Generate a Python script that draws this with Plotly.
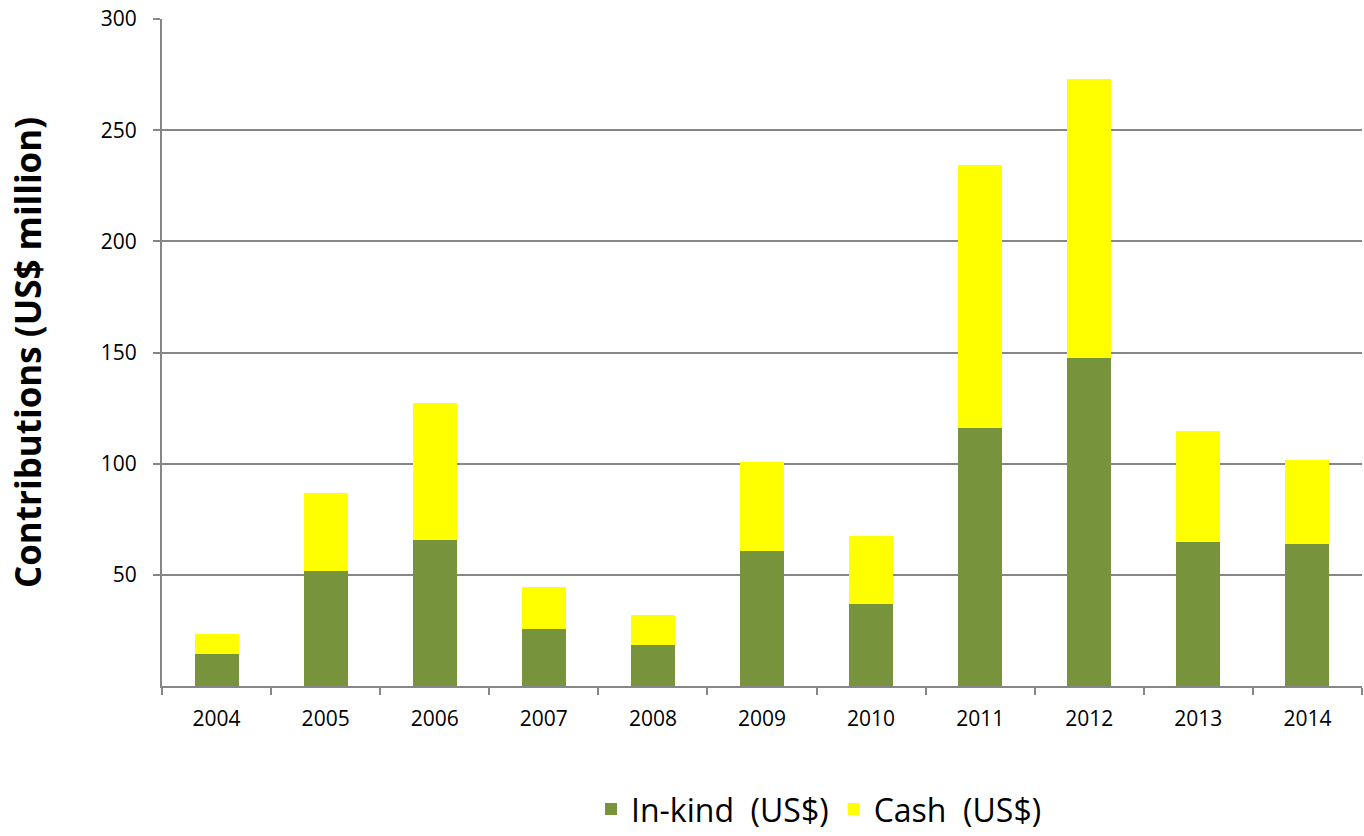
import plotly.graph_objects as go

years = ["2004", "2005", "2006", "2007", "2008", "2009", "2010", "2011", "2012", "2013", "2014"]
inkind = [14.4, 51.7, 65.7, 25.6, 18.4, 60.7, 36.9, 116.0, 147.5, 64.8, 63.9]
cash = [9.0, 35.1, 61.6, 18.9, 13.5, 40.0, 30.6, 118.3, 125.5, 49.9, 37.8]
y_ticks = [50, 100, 150, 200, 250, 300]

FONT = "Open Sans"

fig = go.Figure()
fig.add_trace(go.Bar(x=years, y=inkind, name="In-kind  (US$)", marker_color="#77933C",
                     marker_line_width=0))
fig.add_trace(go.Bar(x=years, y=cash, name="Cash  (US$)", marker_color="#FFFF00",
                     marker_line_width=0))

fig.update_layout(
    barmode="stack",
    bargap=0.597,
    width=1364, height=836,
    margin=dict(l=162, r=2, t=19, b=150),
    plot_bgcolor="white", paper_bgcolor="white",
    font=dict(family=FONT, color="black"),
    showlegend=True,
    legend=dict(orientation="h", x=0.5475, xanchor="center", xref="paper",
                y=0.032, yref="container", yanchor="middle",
                font=dict(size=32, family=FONT), traceorder="normal"),
    xaxis=dict(type="category", showline=True, linecolor="#868686", linewidth=2,
               ticks="outside", tickson="boundaries", ticklen=7, tickcolor="#868686",
               tickwidth=2, tickfont=dict(size=21, family=FONT), showgrid=False,
               ticklabelstandoff=13),
    yaxis=dict(range=[0, 300], tickvals=y_ticks, showline=True, linecolor="#868686",
               linewidth=2, ticks="outside", ticklen=7, tickcolor="#868686", tickwidth=2,
               gridcolor="#868686", gridwidth=1.5, tickfont=dict(size=21, family=FONT),
               zeroline=False, ticklabelstandoff=12),
)

fig.add_annotation(text="<b>Contributions (US$ million)</b>", xref="paper", yref="paper",
                   x=-0.112, y=0.5, xanchor="center", yanchor="middle", textangle=-90,
                   showarrow=False, font=dict(size=35, family=FONT))

fig.write_html("out.html", config={"displayModeBar": False},
               post_script="document.body.style.margin='0';document.body.style.overflow='hidden';")
